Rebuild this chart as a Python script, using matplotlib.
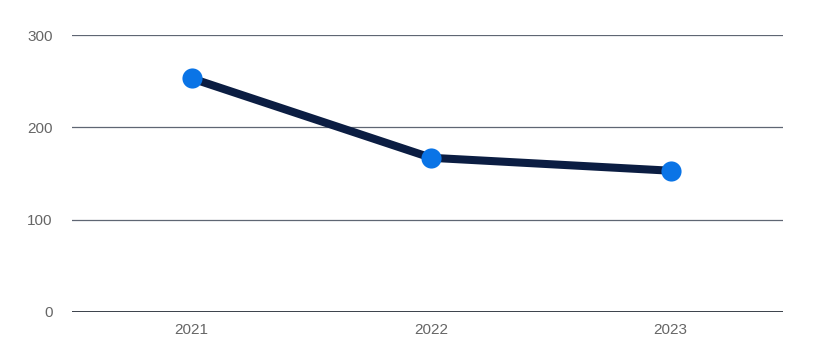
import matplotlib.pyplot as plt

# Data
years = ["2021", "2022", "2023"]
values = [253, 167, 153]
y_ticks = [0, 100, 200, 300]

plt.rcParams['font.family'] = ['Liberation Sans', 'DejaVu Sans']

fig = plt.figure(figsize=(8.28, 3.59), dpi=100)
ax = fig.add_axes([0.087, 0.131, 0.8587, 0.7715])

x = [i + 0.5 for i in range(len(years))]
ax.plot(x, values, color='#0b1d42', linewidth=5.8, solid_capstyle='round', zorder=3)
ax.plot(x, values, 'o', color='#0a74e6', markersize=14.5, markeredgewidth=0, zorder=4)

# categories are a touch wider than the gridline span
ax.set_xlim(0, len(years) - 0.03)
ax.set_ylim(0, 300)
ax.set_xticks(x)
ax.set_xticklabels(years)
ax.set_yticks(y_ticks)

for t in y_ticks[1:]:
    ax.axhline(t, color='#5f6673', linewidth=0.9, zorder=1)
ax.axhline(0, color='#2b313b', linewidth=1.3, zorder=2)

for s in ax.spines.values():
    s.set_visible(False)
ax.tick_params(length=0, colors='#666666', labelsize=11)
ax.tick_params(axis='y', pad=14)
ax.tick_params(axis='x', pad=8)

fig.savefig('out.png', dpi=100)
